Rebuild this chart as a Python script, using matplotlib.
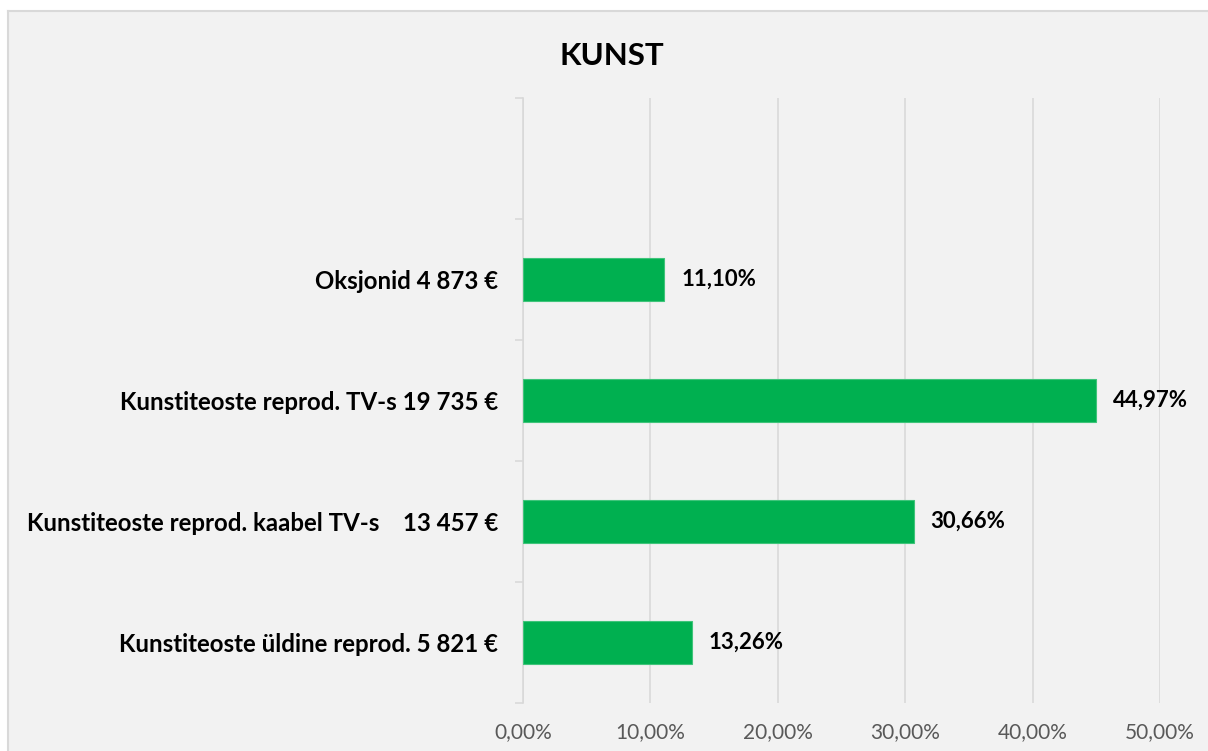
import matplotlib

matplotlib.use('Agg')
import matplotlib.pyplot as plt
from matplotlib.patches import Rectangle
from matplotlib.lines import Line2D
from matplotlib.ticker import FixedLocator, FuncFormatter

plt.rcParams['font.family'] = ['Lato', 'DejaVu Sans']

# andmed (alt üles)
categories = [
    "Kunstiteoste üldine reprod. 5 821 €",
    "Kunstiteoste reprod. kaabel TV-s    13 457 €",
    "Kunstiteoste reprod. TV-s 19 735 €",
    "Oksjonid 4 873 €",
]
shares = [13.26, 30.66, 44.97, 11.10]
x_ticks = [0, 10, 20, 30, 40, 50]

W, H = 1208, 751
fig = plt.figure(figsize=(W / 100, H / 100), dpi=100)
fig.patch.set_facecolor('white')

# diagrammi taust ja raam (ainult üleval ja vasakul)
x0, y0 = 8 / W, 1 - 11 / H
fig.patches.append(Rectangle((x0, 0), 1 - x0, y0, transform=fig.transFigure,
                             facecolor='#f2f2f2', edgecolor='none', zorder=-10))
fig.lines.append(Line2D([x0, 1], [y0, y0], transform=fig.transFigure,
                        color='#d9d9d9', linewidth=1.5))
fig.lines.append(Line2D([x0, x0], [0, y0], transform=fig.transFigure,
                        color='#d9d9d9', linewidth=1.5))

ax = fig.add_axes([523 / W, 1 - 703 / H, (1160 - 523) / W, (703 - 98) / H])
ax.set_facecolor('none')

y = list(range(len(categories)))
ax.barh(y, shares, height=0.35, color='#00b050', edgecolor='#3fc47a', linewidth=0.8, zorder=3)

for yi, v in zip(y, shares):
    ax.annotate(f"{v:.2f}".replace('.', ',') + "%", (v, yi), xytext=(12, 0),
                textcoords='offset points', va='center', ha='left',
                fontsize=16, fontweight='bold', color='black')

ax.set_xlim(0, 50)
ax.set_ylim(-0.5, len(categories) + 0.5)
ax.set_xticks(x_ticks)
ax.xaxis.set_major_formatter(FuncFormatter(lambda v, p: f"{v:.2f}".replace('.', ',') + "%"))
ax.tick_params(axis='x', length=0, labelsize=15, labelcolor='#595959', pad=14)

ax.set_yticks(y)
ax.set_yticklabels(categories, fontsize=17.3, fontweight='bold')
ax.yaxis.set_minor_locator(FixedLocator([i - 0.5 for i in range(len(categories) + 2)]))
ax.tick_params(axis='y', which='major', length=0, pad=18)
ax.tick_params(axis='y', which='minor', length=6, color='#d9d9d9', width=1.2)

ax.grid(axis='x', color='#d9d9d9', linewidth=1.2, zorder=0)
ax.set_axisbelow(True)
for s in ['top', 'right', 'bottom']:
    ax.spines[s].set_visible(False)
ax.spines['left'].set_color('#d9d9d9')
ax.spines['left'].set_linewidth(1.2)

fig.text(612 / W, 1 - 56 / H, "KUNST", ha='center', va='center',
         fontsize=22.5, fontweight='bold', color='black')

fig.savefig('out.png', dpi=100, facecolor=fig.get_facecolor())
